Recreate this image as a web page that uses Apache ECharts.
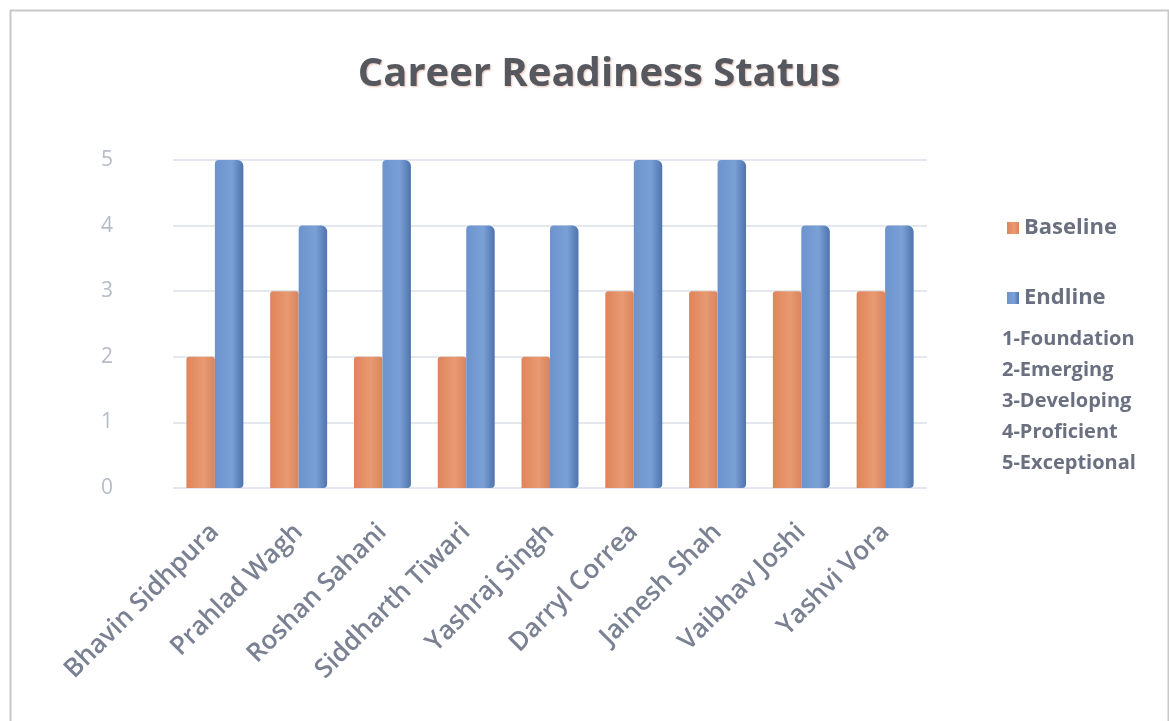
<!DOCTYPE html>
<html>
<head>
<meta charset="utf-8">
<script src="https://cdn.jsdelivr.net/npm/echarts@6/dist/echarts.min.js"></script>
<style>
  html, body { margin: 0; padding: 0; background: #fff; }
  #chart { width: 1169px; height: 721px; }
</style>
</head>
<body>
<div id="chart"></div>
<script>
var names = ["Bhavin Sidhpura", "Prahlad Wagh", "Roshan Sahani", "Siddharth Tiwari", "Yashraj Singh",
  "Darryl Correa", "Jainesh Shah", "Vaibhav Joshi", "Yashvi Vora"];
var baseline = [2, 3, 2, 2, 2, 3, 3, 3, 3];
var endline = [5, 4, 5, 4, 4, 5, 5, 4, 4];
var scaleNotes = ["1-Foundation", "2-Emerging", "3-Developing", "4-Proficient", "5-Exceptional"];

var chart = echarts.init(document.getElementById("chart"));

function shade(c1, c2, c3) {
  return new echarts.graphic.LinearGradient(0, 0, 1, 0, [
    { offset: 0, color: c1 },
    { offset: 0.6, color: c2 },
    { offset: 1, color: c3 }
  ]);
}

chart.setOption({
  backgroundColor: "#fff",
  title: {
    text: "Career Readiness Status",
    left: 594,
    textAlign: "center",
    top: 50,
    textStyle: {
      fontFamily: "Open Sans",
      fontWeight: "bold",
      fontSize: 40,
      color: "#55595f",
      textShadowColor: "rgba(200,120,100,0.5)",
      textShadowBlur: 2,
      textShadowOffsetX: 1,
      textShadowOffsetY: 1
    }
  },
  legend: {
    orient: "vertical",
    left: 1002,
    top: 212,
    itemGap: 48,
    itemWidth: 12,
    itemHeight: 12,
    icon: "rect",
    textStyle: { fontFamily: "Open Sans", fontSize: 22, color: "#6a7080", fontWeight: "bold" },
    data: ["Baseline", "Endline"]
  },
  grid: { left: 173, right: 242, top: 160, bottom: 233 },
  xAxis: {
    type: "category",
    data: names,
    axisLine: { show: false },
    axisTick: { show: false },
    axisLabel: {
      rotate: 45,
      interval: 0,
      margin: 40,
      fontFamily: "Open Sans",
      fontSize: 26,
      fontWeight: 600,
      color: "#7a8192"
    }
  },
  yAxis: {
    type: "value",
    min: 0,
    max: 5,
    interval: 1,
    axisLine: { show: false },
    axisTick: { show: false },
    axisLabel: { fontFamily: "Open Sans", fontSize: 21, color: "#b4bcc8", margin: 60 },
    splitLine: { lineStyle: { color: "#e4e8ee", width: 2 } }
  },
  series: [
    {
      name: "Baseline",
      type: "bar",
      data: baseline,
      barGap: "0%",
      barCategoryGap: "32%",
      itemStyle: { color: shade("#e0845a", "#e89a72", "#d9845c"), borderRadius: [3, 3, 0, 0] }
    },
    {
      name: "Endline",
      type: "bar",
      data: endline,
      itemStyle: { color: shade("#6d93ce", "#7aa0d6", "#4f74ad"), borderRadius: [4, 6, 4, 0] }
    }
  ],
  graphic: [
    {
      type: "rect",
      left: 8, top: 8,
      shape: { width: 1158, height: 712 },
      style: { fill: "none", stroke: "#c8c8c8", lineWidth: 2 }
    },
    {
      type: "group",
      left: 1002,
      top: 329,
      children: scaleNotes.map(function (t, i) {
        return {
          type: "text",
          left: 0,
          top: i * 31,
          style: { text: t, fontFamily: "Open Sans", fontSize: 20, fontWeight: "bold", fill: "#6a7080" }
        };
      })
    }
  ]
});
</script>
</body>
</html>
